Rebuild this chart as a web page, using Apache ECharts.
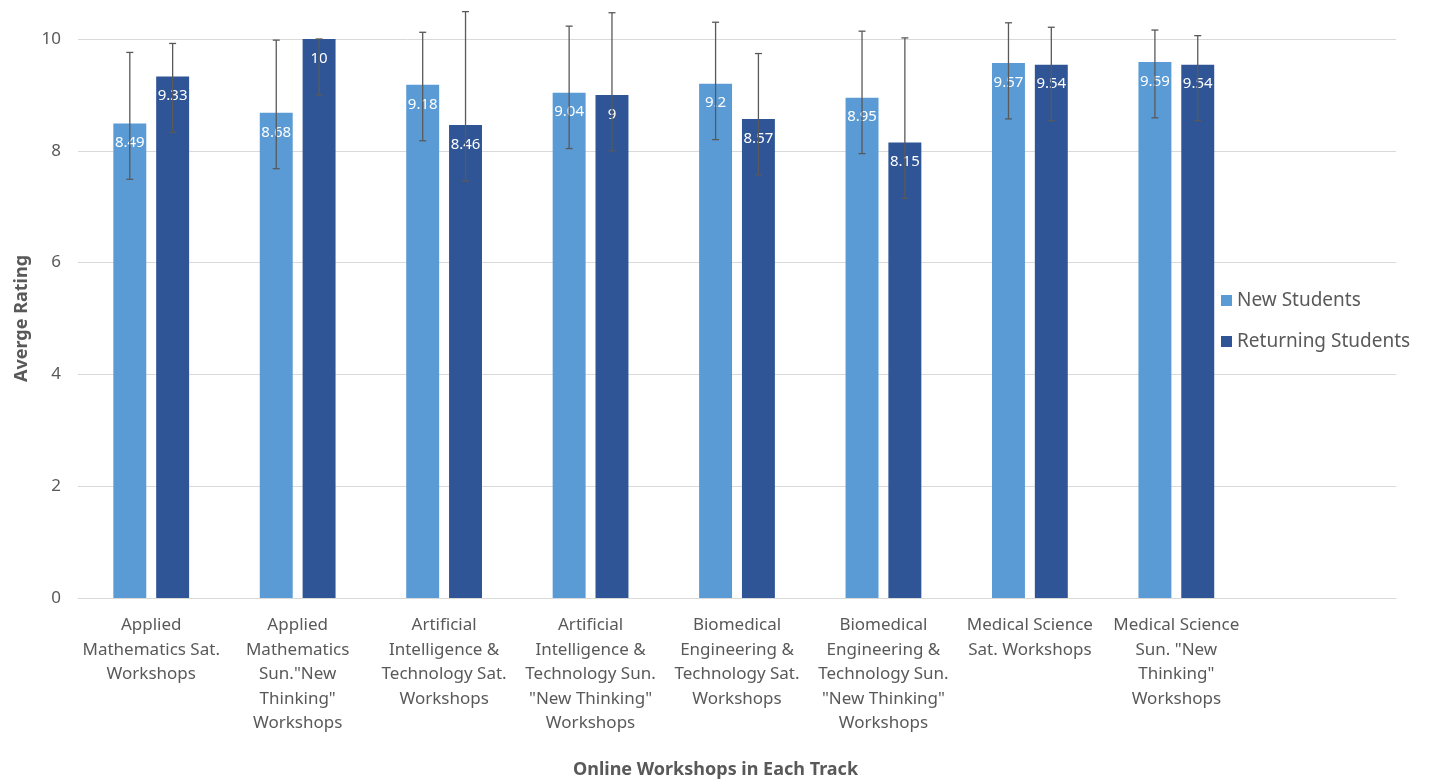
<!DOCTYPE html>
<html>
<head>
<meta charset="utf-8">
<script src="https://cdn.jsdelivr.net/npm/echarts@6/dist/echarts.min.js"></script>
<style>html,body{margin:0;padding:0;background:#fff;}#c{width:1431px;height:781px;}</style>
</head>
<body>
<div id="c"></div>
<script>
var categories = [
  'Applied\nMathematics Sat.\nWorkshops',
  'Applied\nMathematics\nSun."New\nThinking"\nWorkshops',
  'Artificial\nIntelligence &\nTechnology Sat.\nWorkshops',
  'Artificial\nIntelligence &\nTechnology Sun.\n"New Thinking"\nWorkshops',
  'Biomedical\nEngineering &\nTechnology Sat.\nWorkshops',
  'Biomedical\nEngineering &\nTechnology Sun.\n"New Thinking"\nWorkshops',
  'Medical Science\nSat. Workshops',
  'Medical Science\nSun. "New\nThinking"\nWorkshops',
  ''
];
var seriesNames = ['New Students', 'Returning Students'];
var newStudents = [8.49, 8.68, 9.18, 9.04, 9.2, 8.95, 9.57, 9.59];
var returningStudents = [9.33, 10, 8.46, 9, 8.57, 8.15, 9.54, 9.54];
var newHigh = [9.76, 9.98, 10.12, 10.23, 10.30, 10.14, 10.29, 10.16];
var newLow = [7.49, 7.68, 8.18, 8.04, 8.2, 7.95, 8.57, 8.59];
var retHigh = [9.92, 10, 10.49, 10.47, 9.74, 10.02, 10.21, 10.06];
var retLow = [8.33, 9, 7.46, 8, 7.57, 7.15, 8.54, 8.54];
var yTicks = [0, 2, 4, 6, 8, 10];

var BAR_W = 0.225, BAR_GAP = 0.3;
function errSeries(high, low, dir) {
  var data = high.map(function (h, i) { return [i, low[i], h]; });
  return {
    type: 'custom',
    clip: false,
    silent: true,
    z: 10,
    data: data,
    encode: { x: 0, y: [1, 2] },
    renderItem: function (params, api) {
      var band = api.size([1, 0])[0];
      var off = dir * band * BAR_W * (1 + BAR_GAP) / 2;
      var lo = api.coord([api.value(0), api.value(1)]);
      var hi = api.coord([api.value(0), api.value(2)]);
      var x = lo[0] + off, cap = 3.5;
      var st = { stroke: '#595959', lineWidth: 1.3 };
      return {
        type: 'group',
        children: [
          { type: 'line', shape: { x1: x, y1: lo[1], x2: x, y2: hi[1] }, style: st },
          { type: 'line', shape: { x1: x - cap, y1: lo[1], x2: x + cap, y2: lo[1] }, style: st },
          { type: 'line', shape: { x1: x - cap, y1: hi[1], x2: x + cap, y2: hi[1] }, style: st }
        ]
      };
    }
  };
}

var FONT = 'Noto Sans';
var chart = echarts.init(document.getElementById('c'));
chart.setOption({
  animation: false,
  textStyle: { fontFamily: FONT },
  grid: { left: 78, right: 35, top: 39, bottom: 183, containLabel: false },
  title: {
    text: 'Online Workshops in Each Track',
    left: 'center', top: 756,
    textStyle: { fontFamily: FONT, fontSize: 18, fontWeight: 'bold', color: '#595959' }
  },
  legend: {
    orient: 'vertical',
    left: 1216, top: 286,
    itemWidth: 11, itemHeight: 11, itemGap: 22,
    icon: 'rect',
    data: seriesNames,
    textStyle: { fontFamily: FONT, fontSize: 19, color: '#595959', padding: [0, 0, 0, 0] }
  },
  xAxis: {
    type: 'category',
    data: categories,
    axisLine: { lineStyle: { color: '#d9d9d9' } },
    axisTick: { show: false },
    axisLabel: { interval: 0, color: '#595959', fontFamily: FONT, fontSize: 17, lineHeight: 24.5, margin: 15 }
  },
  yAxis: {
    type: 'value',
    min: 0, max: 10, interval: 2,
    name: 'Averge Rating',
    nameLocation: 'middle',
    nameGap: 47,
    nameRotate: 90,
    nameTextStyle: { fontFamily: FONT, fontSize: 18, fontWeight: 'bold', color: '#595959' },
    axisLine: { show: false },
    axisTick: { show: false },
    splitLine: { lineStyle: { color: '#d9d9d9' } },
    axisLabel: {
      color: '#595959', fontFamily: FONT, fontSize: 17, margin: 17,
      formatter: function (v) { return yTicks.indexOf(v) >= 0 ? String(v) : ''; }
    }
  },
  series: [
    {
      name: seriesNames[0], type: 'bar', data: newStudents,
      barWidth: '22.5%', barGap: '30%',
      itemStyle: { color: '#5B9BD5' },
      label: { show: true, position: 'insideTop', distance: 12, color: '#ffffff', fontFamily: FONT, fontSize: 15 }
    },
    {
      name: seriesNames[1], type: 'bar', data: returningStudents,
      barWidth: '22.5%', barGap: '30%',
      itemStyle: { color: '#2F5597' },
      label: { show: true, position: 'insideTop', distance: 12, color: '#ffffff', fontFamily: FONT, fontSize: 15 }
    },
    errSeries(newHigh, newLow, -1),
    errSeries(retHigh, retLow, 1)
  ]
});
</script>
</body>
</html>
